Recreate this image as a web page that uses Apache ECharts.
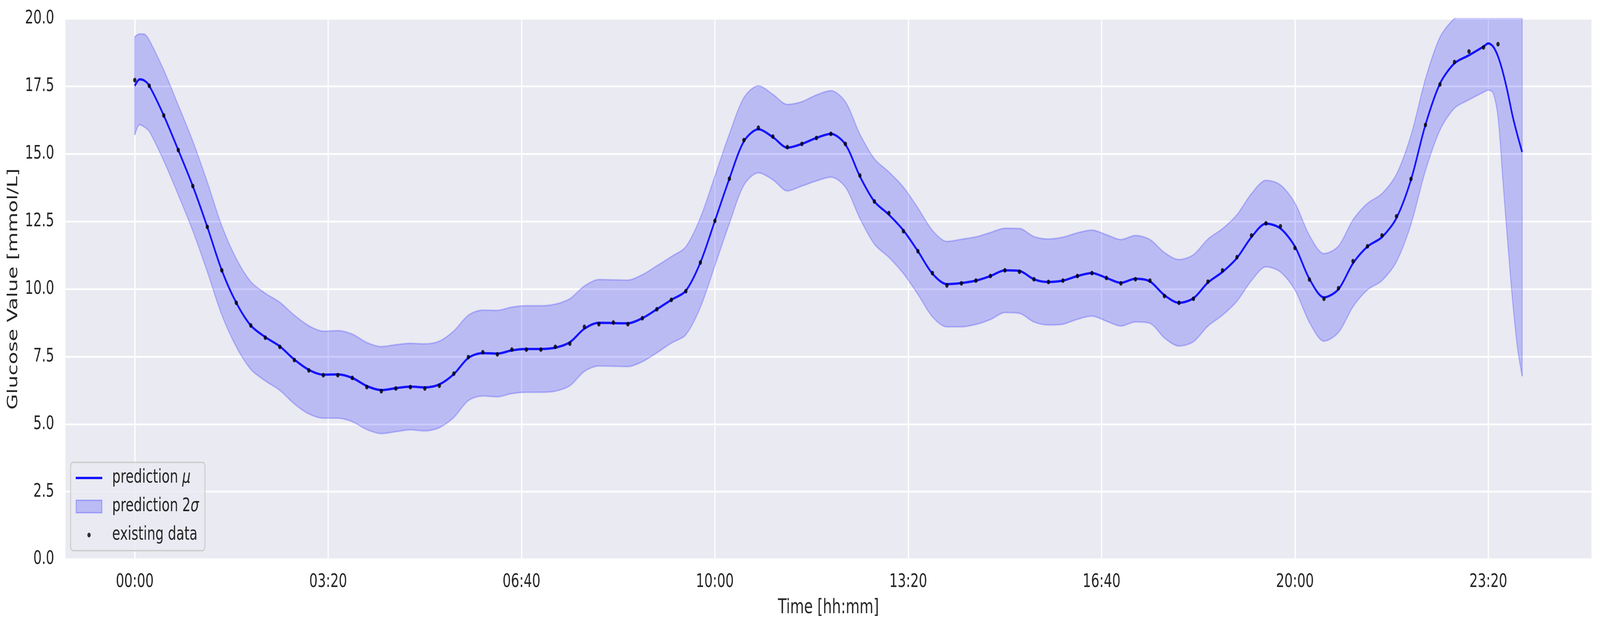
<!DOCTYPE html>
<html>
<head>
<meta charset="utf-8">
<script src="https://cdn.jsdelivr.net/npm/echarts@6/dist/echarts.min.js"></script>
<style>
html,body{margin:0;padding:0;background:#ffffff;overflow:hidden;}
#c{position:absolute;left:0;top:0;width:5846px;height:1612px;transform-origin:0 0;}
</style>
</head>
<body>
<div id="c"></div>
<script>
// ---- data (minutes since 00:00) ----
const lineTimes = [0,5,10,15,30,45,60,75,90,105,120,135,150,165,180,195,210,225,240,255,270,285,300,315,
  330,345,360,375,390,405,420,435,450,465,480,495,510,525,540,555,570,585,600,615,630,645,660,675,690,705,720,
  735,750,765,780,795,810,825,840,855,870,885,900,915,930,945,960,975,990,1005,1020,1035,1050,1065,1080,1095,1110,
  1125,1140,1155,1170,1185,1200,1215,1230,1245,1260,1275,1290,1305,1320,1335,1350,1365,1380,1395,
  1400,1405,1410,1415,1420,1425,1430,1435];

const mu = [17.52,17.76,17.71,
  17.52,16.42,15.14,13.81,12.30,10.69,9.49,8.65,8.22,7.88,7.39,7.01,6.83,6.84,6.71,6.41,6.26,6.33,6.39,6.36,6.47,
  6.85,7.45,7.63,7.61,7.73,7.78,7.78,7.83,8.03,8.53,8.75,8.74,8.73,8.92,9.25,9.60,9.94,10.98,12.52,14.08,15.46,15.91,15.62,15.23,15.37,15.59,15.74,
  15.35,14.17,13.24,12.75,12.17,11.40,10.57,10.18,10.22,10.31,10.48,10.69,10.67,10.36,10.26,10.31,10.48,10.59,10.41,10.23,10.38,10.28,9.77,9.49,9.66,10.24,
  10.63,11.15,11.92,12.42,12.24,11.57,10.37,9.69,9.99,10.95,11.57,11.92,12.63,14.04,16.08,17.60,18.35,18.65,18.97,
  19.09,18.97,
  18.61,18.03,17.28,16.42,15.71,15.07];

const twoSigma = [1.82,1.68,1.72,
  1.69,1.68,1.66,1.66,1.66,1.65,1.63,1.62,1.62,1.63,1.64,1.63,1.61,1.62,1.62,1.61,1.61,1.61,1.60,1.61,1.60,
  1.60,1.58,1.59,1.60,1.60,1.60,1.60,1.61,1.61,1.58,1.60,1.60,1.60,1.61,1.61,1.60,1.63,1.66,1.66,1.66,1.62,1.61,1.58,1.60,1.56,1.59,1.60,
  1.58,1.56,1.58,1.58,1.60,1.60,1.60,1.58,1.62,1.62,1.61,1.56,1.57,1.58,1.59,1.61,1.60,1.59,1.60,1.60,1.60,1.55,1.58,1.60,1.61,1.61,
  1.60,1.60,1.61,1.60,1.61,1.61,1.61,1.62,1.60,1.61,1.60,1.61,1.62,1.65,1.70,1.72,1.66,1.65,1.69,
  1.73,1.72,
  2.25,3.99,5.54,6.82,7.85,8.30];

const dotTimes = [0,15,30,45,60,75,90,105,120,135,150,165,180,195,210,225,240,255,270,285,300,315,330,345,360,
  375,390,405,420,435,450,465,480,495,510,525,540,555,570,585,600,615,630,645,660,675,690,705,720,735,750,765,
  780,795,810,825,840,855,870,885,900,915,930,945,960,975,990,1005,1020,1035,1050,1065,1080,1095,1110,1125,1140,
  1155,1170,1185,1200,1215,1230,1245,1260,1275,1290,1305,1320,1335,1350,1365,1380,1395,1410];

const dotValues = [17.73,17.52,16.42,15.14,13.81,12.30,10.69,9.49,8.65,8.20,
  7.86,7.37,6.99,6.81,6.81,6.71,6.37,6.22,6.32,6.37,
  6.32,6.42,6.87,7.48,7.66,7.58,7.76,7.76,7.76,7.86,
  7.98,8.60,8.70,8.76,8.70,8.92,9.25,9.60,9.92,10.98,
  12.52,14.08,15.51,15.97,15.64,15.25,15.37,15.59,15.74,15.37,
  14.20,13.24,12.81,12.14,11.40,10.59,10.13,10.21,10.31,10.48,
  10.69,10.64,10.36,10.26,10.31,10.48,10.59,10.41,10.21,10.36,
  10.31,9.74,9.49,9.64,10.27,10.69,11.18,11.98,12.43,12.32,
  11.52,10.35,9.64,10.03,11.03,11.58,11.98,12.69,14.07,16.07,
  17.57,18.40,18.79,18.94,19.06];

const xTicks = [0,200,400,600,800,1000,1200,1400];
const xTickLabels = ['00:00','03:20','06:40','10:00','13:20','16:40','20:00','23:20'];

// ---- fit the 5846 x 1612 design into whatever viewport the browser gives ----
const el = document.getElementById('c');
const vw = window.innerWidth || 5846, vh = window.innerHeight || 1612;
el.style.transform = 'scale(' + (vw / 5846) + ',' + (vh / 1612) + ')';

// ---- derived series (value dimension first so that stacking happens on y) ----
const bandLow = lineTimes.map((t,i)=>[+(mu[i]-twoSigma[i]).toFixed(3), t]);
const bandSpan = lineTimes.map((t,i)=>[+(2*twoSigma[i]).toFixed(3), t]);
const muData = lineTimes.map((t,i)=>[t, mu[i]]);
const dots = dotTimes.map((t,i)=>[t, dotValues[i]]);
const nL = lineTimes.length - 1;
const edgeStart = [[lineTimes[0], mu[0]-twoSigma[0]], [lineTimes[0], mu[0]+twoSigma[0]]];
const edgeEnd = [[lineTimes[nL], mu[nL]-twoSigma[nL]], [lineTimes[nL], mu[nL]+twoSigma[nL]]];

const FONT = 'DejaVu Sans';
const TXT = '#262626';
const BAND = 'rgba(0,0,255,0.2)';
const BANDEDGE = 'rgba(0,0,255,0.2)';
const LINE = '#1414ff';

const chart = echarts.init(el, null, {renderer:'canvas', width: 5846, height: 1612});
chart.setOption({
  animation: false,
  backgroundColor: '#ffffff',
  textStyle: {fontFamily: FONT},
  grid: {left: 239, top: 48, right: 31, bottom: 181, show: true, backgroundColor: '#EAEAF2', borderWidth: 0},
  xAxis: {
    type: 'value', min: -71.75, max: 1506.75,
    axisLine: {show: false}, axisTick: {show: false}, splitLine: {show: false},
    axisLabel: {
      customValues: xTicks,
      formatter: v => { const k = xTicks.indexOf(v); return k >= 0 ? xTickLabels[k] : ''; },
      fontSize: 48, color: TXT, fontFamily: FONT, margin: 35
    },
    name: 'Time [hh:mm]', nameLocation: 'middle', nameGap: 98,
    nameTextStyle: {fontSize: 52, color: TXT, fontFamily: FONT}
  },
  yAxis: {
    type: 'value', min: 0, max: 20, interval: 2.5,
    axisLine: {show: false}, axisTick: {show: false},
    splitLine: {show: true, lineStyle: {color: '#ffffff', width: 4.4}},
    axisLabel: {formatter: v => v.toFixed(1), fontSize: 48, color: TXT, fontFamily: FONT, margin: 41},
    name: 'Glucose Value [mmol/L]', nameLocation: 'middle', nameGap: 164,
    nameTextStyle: {fontSize: 52, color: TXT, fontFamily: FONT}
  },
  legend: {
    orient: 'vertical', left: 258, top: 1183,
    selectedMode: false,
    itemWidth: 128, itemHeight: 35, itemGap: 25,
    padding: [16, 22, 16, 17],
    backgroundColor: 'rgba(234,234,242,0.8)',
    borderColor: '#cccccc', borderWidth: 3.5, borderRadius: 10,
    textStyle: {fontSize: 48, color: TXT, fontFamily: FONT,
      rich: {i: {fontSize: 48, color: TXT, fontFamily: FONT, fontStyle: 'italic'}}},
    formatter: name => name.replace('μ', '{i|μ}').replace('σ', '{i|σ}'),
    data: [
      {name: 'prediction μ', icon: 'path://M0,0L0,0M128,35L128,35M0,14.5L97,14.5L97,20.5L0,20.5Z',
        itemStyle: {color: LINE, borderWidth: 0}},
      {name: 'prediction 2σ', icon: 'path://M0,0L0,0M128,35L128,35M1.5,1.5L95.5,1.5L95.5,33.5L1.5,33.5Z',
        itemStyle: {color: BAND, borderColor: 'rgba(0,0,255,0.25)', borderWidth: 3.5}},
      {name: 'existing data', icon: 'path://M0,0L0,0M128,35L128,35M42.5,17.5A6,6 0 1 1 54.5,17.5A6,6 0 1 1 42.5,17.5Z',
        itemStyle: {color: '#000000', borderWidth: 0}}
    ]
  },
  series: [
    {
      type: 'line', name: '_vgrid', data: [], silent: true, z: 1,
      markLine: {
        silent: true, z: 1, symbol: ['none', 'none'], label: {show: false},
        lineStyle: {color: '#ffffff', width: 4.4, type: 'solid'},
        emphasis: {disabled: true},
        data: xTicks.map(v => ({xAxis: v}))
      }
    },
    {
      type: 'line', name: '_bandLow', stack: 'band', data: bandLow, encode: {x: 1, y: 0},
      symbol: 'none', smooth: 0.3,
      lineStyle: {color: BANDEDGE, width: 4}, itemStyle: {color: BANDEDGE}, silent: true, z: 2
    },
    {
      type: 'line', name: 'prediction 2σ', stack: 'band', data: bandSpan, encode: {x: 1, y: 0},
      symbol: 'none', smooth: 0.3,
      lineStyle: {color: BANDEDGE, width: 4}, itemStyle: {color: BAND},
      areaStyle: {color: BAND, opacity: 1}, silent: true, z: 2
    },
    {type: 'line', name: '_edgeStart', data: edgeStart, symbol: 'none', lineStyle: {color: BANDEDGE, width: 4}, silent: true, z: 2},
    {type: 'line', name: '_edgeEnd', data: edgeEnd, symbol: 'none', lineStyle: {color: BANDEDGE, width: 4}, silent: true, z: 2},
    {
      type: 'line', name: 'prediction μ', data: muData, symbol: 'none', smooth: 0.3,
      lineStyle: {color: LINE, width: 6}, itemStyle: {color: LINE}, z: 3
    },
    {
      type: 'scatter', name: 'existing data', data: dots, symbol: 'circle', symbolSize: 12,
      itemStyle: {color: '#000000'}, z: 4
    }
  ]
});
</script>
</body>
</html>
